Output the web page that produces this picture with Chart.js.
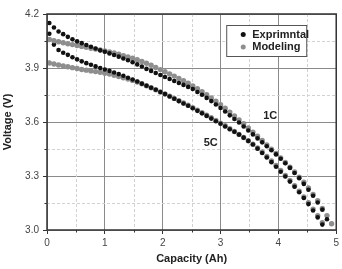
<!DOCTYPE html>
<html>
<head>
<meta charset="utf-8">
<script src="https://cdn.jsdelivr.net/npm/chart.js@4.4.1/dist/chart.umd.min.js"></script>
<style>
  body { margin: 0; background: #fff; }
  #wrap { width: 342px; height: 269px; position: relative; }
</style>
</head>
<body>
<div id="wrap"><canvas id="discharge-chart"></canvas></div>
<script>
// capacity points (Ah), shared by all four curves
const capacity = [
  0.04, 0.12, 0.20, 0.28, 0.36, 0.44, 0.52, 0.60, 0.68, 0.76,
  0.84, 0.92, 1.00, 1.08, 1.16, 1.24, 1.32, 1.40, 1.48, 1.56,
  1.64, 1.72, 1.80, 1.88, 1.96, 2.04, 2.12, 2.20, 2.28, 2.36,
  2.44, 2.52, 2.60, 2.68, 2.76, 2.84, 2.92, 3.00, 3.08, 3.16,
  3.24, 3.32, 3.40, 3.48, 3.56, 3.64, 3.72, 3.80, 3.88, 3.96,
  4.04, 4.12, 4.20, 4.28, 4.36, 4.44, 4.52, 4.60, 4.68, 4.76,
  4.84, 4.92
];

// 1C experiment (V)
const exp1C = [
  4.150, 4.125, 4.103, 4.088, 4.073, 4.060, 4.048, 4.038, 4.028, 4.018,
  4.008, 3.998, 3.990, 3.981, 3.972, 3.963, 3.953, 3.943, 3.932, 3.920,
  3.908, 3.895, 3.884, 3.872, 3.861, 3.850, 3.839, 3.828, 3.817, 3.806,
  3.795, 3.783, 3.767, 3.751, 3.734, 3.716, 3.697, 3.678, 3.658, 3.637,
  3.617, 3.597, 3.575, 3.553, 3.531, 3.509, 3.487, 3.465, 3.443, 3.420,
  3.396, 3.371, 3.345, 3.317, 3.288, 3.256, 3.224, 3.190, 3.153, 3.113,
  3.060
];

// 1C model (V)
const model1C = [
  4.058, 4.052, 4.046, 4.040, 4.035, 4.030, 4.025, 4.020, 4.015, 4.010,
  4.005, 4.000, 3.995, 3.989, 3.983, 3.976, 3.969, 3.962, 3.955, 3.946,
  3.936, 3.926, 3.915, 3.903, 3.891, 3.879, 3.867, 3.855, 3.842, 3.829,
  3.815, 3.800, 3.785, 3.769, 3.752, 3.734, 3.715, 3.696, 3.676, 3.655,
  3.634, 3.612, 3.590, 3.567, 3.544, 3.521, 3.497, 3.473, 3.449, 3.425,
  3.400, 3.375, 3.349, 3.322, 3.294, 3.265, 3.234, 3.197, 3.163, 3.120,
  3.080, 3.035
];

// 5C experiment (V)
const exp5C = [
  4.090, 4.030, 4.000, 3.985, 3.973, 3.960, 3.948, 3.937, 3.927, 3.918,
  3.909, 3.900, 3.892, 3.884, 3.875, 3.866, 3.857, 3.846, 3.836, 3.825,
  3.813, 3.801, 3.790, 3.779, 3.767, 3.755, 3.742, 3.729, 3.716, 3.703,
  3.690, 3.676, 3.662, 3.648, 3.634, 3.619, 3.604, 3.590, 3.575, 3.560,
  3.546, 3.530, 3.513, 3.495, 3.475, 3.452, 3.428, 3.403, 3.377, 3.351,
  3.324, 3.297, 3.269, 3.240, 3.210, 3.178, 3.144, 3.108, 3.070, 3.030
];

// 5C model (V)
const model5C = [
  3.928, 3.922, 3.917, 3.912, 3.907, 3.902, 3.897, 3.892, 3.888, 3.884,
  3.880, 3.876, 3.871, 3.866, 3.860, 3.853, 3.846, 3.839, 3.831, 3.822,
  3.812, 3.801, 3.790, 3.779, 3.767, 3.756, 3.744, 3.731, 3.718, 3.706,
  3.693, 3.680, 3.666, 3.652, 3.638, 3.624, 3.609, 3.594, 3.579, 3.563,
  3.547, 3.531, 3.514, 3.496, 3.477, 3.456, 3.433, 3.409, 3.384, 3.358,
  3.331, 3.303, 3.275, 3.246, 3.216, 3.184, 3.151, 3.116, 3.079, 3.040
];

const xTicks = [0, 1, 2, 3, 4, 5];
const yTicks = [3.0, 3.3, 3.6, 3.9, 4.2];
const legendLabels = ['Exprimntal', 'Modeling'];
const rateLabels = ['1C', '5C'];

const black = '#111111';
const gray = '#8e8e8e';
const font = "'Liberation Sans', Arial, sans-serif";

function points(volts) {
  return volts.map((v, i) => ({ x: capacity[i], y: v }));
}

// dashed minor grid, minor ticks and the frame
const framePlugin = {
  id: 'frame',
  beforeDatasetsDraw(chart) {
    const { ctx, chartArea: a, scales: { x, y } } = chart;
    ctx.save();
    ctx.strokeStyle = '#d2d2d2';
    ctx.lineWidth = 1;
    ctx.setLineDash([3, 2]);
    for (let i = 0; i < xTicks.length - 1; i++) {
      const px = Math.round(x.getPixelForValue((xTicks[i] + xTicks[i + 1]) / 2)) + 0.5;
      ctx.beginPath(); ctx.moveTo(px, a.top); ctx.lineTo(px, a.bottom); ctx.stroke();
    }
    for (let i = 0; i < yTicks.length - 1; i++) {
      const py = Math.round(y.getPixelForValue((yTicks[i] + yTicks[i + 1]) / 2)) + 0.5;
      ctx.beginPath(); ctx.moveTo(a.left, py); ctx.lineTo(a.right, py); ctx.stroke();
    }
    ctx.setLineDash([]);
    ctx.strokeStyle = '#333';
    for (let i = 0; i < xTicks.length - 1; i++) {
      const px = Math.round(x.getPixelForValue((xTicks[i] + xTicks[i + 1]) / 2)) + 0.5;
      ctx.beginPath(); ctx.moveTo(px, a.bottom); ctx.lineTo(px, a.bottom + 2.5); ctx.stroke();
    }
    for (let i = 0; i < yTicks.length - 1; i++) {
      const py = Math.round(y.getPixelForValue((yTicks[i] + yTicks[i + 1]) / 2)) + 0.5;
      ctx.beginPath(); ctx.moveTo(a.left - 2.5, py); ctx.lineTo(a.left, py); ctx.stroke();
    }
    ctx.restore();
  },
  afterDraw(chart) {
    const { ctx, chartArea: a, scales: { x, y } } = chart;
    ctx.save();
    ctx.strokeStyle = '#333';
    ctx.lineWidth = 1.5;
    ctx.strokeRect(a.left, a.top, a.right - a.left, a.bottom - a.top);

    // legend box
    const bx = a.right - 110, by = a.top + 11;
    ctx.lineWidth = 1;
    ctx.strokeStyle = '#555';
    ctx.fillStyle = '#fff';
    ctx.fillRect(bx, by, 80, 31);
    ctx.strokeRect(bx + 0.5, by + 0.5, 80, 31);
    ctx.font = 'bold 11px ' + font;
    ctx.textBaseline = 'middle';
    [black, gray].forEach((c, i) => {
      const cy = by + 9.5 + i * 12.5;
      ctx.fillStyle = c;
      ctx.beginPath(); ctx.arc(bx + 17, cy, 2.5, 0, Math.PI * 2); ctx.fill();
      ctx.fillStyle = '#222';
      ctx.fillText(legendLabels[i], bx + 26, cy);
    });

    // rate labels
    ctx.textAlign = 'center';
    ctx.fillText(rateLabels[0], x.getPixelForValue(3.86), y.getPixelForValue(3.633));
    ctx.fillText(rateLabels[1], x.getPixelForValue(2.83), y.getPixelForValue(3.483));
    ctx.restore();
  }
};

window.addEventListener('load', function () {
  const ctx = document.getElementById('discharge-chart').getContext('2d');

  new Chart(ctx, {
    type: 'scatter',
    data: {
      datasets: [
        { label: legendLabels[0], data: points(exp1C), backgroundColor: black, pointRadius: 2.3 },
        { label: legendLabels[1], data: points(model1C), backgroundColor: gray, pointRadius: 2.7 },
        { label: legendLabels[0], data: points(exp5C), backgroundColor: black, pointRadius: 2.3 },
        { label: legendLabels[1], data: points(model5C), backgroundColor: gray, pointRadius: 2.7 }
      ]
    },
    options: {
      responsive: true,
      maintainAspectRatio: false,
      animation: false,
      events: [],
      layout: { padding: { top: 14, right: 4, left: 0, bottom: 0 } },
      elements: { point: { borderWidth: 0, hoverRadius: 0 } },
      plugins: {
        legend: { display: false },
        tooltip: { enabled: false }
      },
      scales: {
        x: {
          type: 'linear',
          min: 0,
          max: 5,
          afterFit(scale) { scale.height = 39; },
          afterBuildTicks(scale) { scale.ticks = xTicks.map(v => ({ value: v })); },
          ticks: { font: { size: 10, family: font }, color: '#444', padding: 3, maxRotation: 0 },
          grid: { color: '#8a8a8a', lineWidth: 1, tickLength: 4, tickColor: '#333' },
          border: { display: false },
          title: {
            display: true,
            text: 'Capacity (Ah)',
            font: { size: 11, weight: 'bold', family: font },
            color: '#222',
            padding: { top: 0, bottom: 3 }
          }
        },
        y: {
          type: 'linear',
          min: 3.0,
          max: 4.2,
          afterFit(scale) { scale.width = 47; },
          afterBuildTicks(scale) { scale.ticks = yTicks.map(v => ({ value: v })); },
          ticks: {
            font: { size: 10, family: font },
            color: '#444',
            padding: 4,
            callback: v => v.toFixed(1)
          },
          grid: { color: '#8a8a8a', lineWidth: 1, tickLength: 4, tickColor: '#333' },
          border: { display: false },
          title: {
            display: true,
            text: 'Voltage (V)',
            font: { size: 11, weight: 'bold', family: font },
            color: '#222',
            padding: { top: 1, bottom: 0 }
          }
        }
      }
    },
    plugins: [framePlugin]
  });
});
</script>
</body>
</html>
